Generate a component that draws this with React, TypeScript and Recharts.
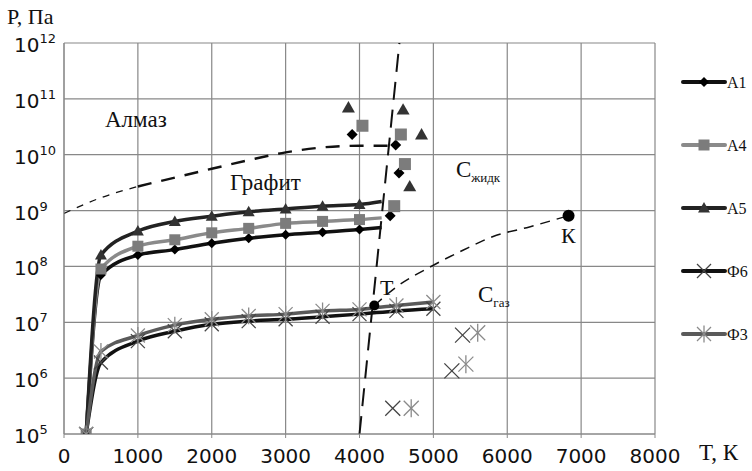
import React from "react";
import {
  ComposedChart,
  Line,
  Scatter,
  XAxis,
  YAxis,
  CartesianGrid,
  ReferenceDot,
} from "recharts";

const SANS = "'DejaVu Sans', Verdana, sans-serif";
const SERIF = "'Liberation Serif', 'Times New Roman', serif";

const X_TICKS = [0, 1000, 2000, 3000, 4000, 5000, 6000, 7000, 8000];
const Y_TICKS = [1e5, 1e6, 1e7, 1e8, 1e9, 1e10, 1e11, 1e12];

// curves A (upper group)
const A_T = [300, 500, 1000, 1500, 2000, 2500, 3000, 3500, 4000, 4300];
const A1_P = [1e5, 7e7, 1.6e8, 2.0e8, 2.6e8, 3.2e8, 3.7e8, 4.1e8, 4.6e8, 5.0e8];
const A4_P = [1e5, 9e7, 2.3e8, 3.0e8, 4.0e8, 4.8e8, 5.9e8, 6.4e8, 6.9e8, 7.4e8];
const A5_P = [1e5, 1.6e8, 4.3e8, 6.4e8, 7.9e8, 9.5e8, 1.07e9, 1.2e9, 1.28e9, 1.45e9];

// curves Ф (lower group)
const F_T = [300, 500, 1000, 1500, 2000, 2500, 3000, 3500, 4000, 4500, 5000];
const F6_P = [1e5, 1.9e6, 4.6e6, 6.9e6, 9.2e6, 1.05e7, 1.13e7, 1.26e7, 1.4e7, 1.6e7, 1.75e7];
const F3_P = [1e5, 3.0e6, 5.8e6, 8.9e6, 1.13e7, 1.3e7, 1.4e7, 1.6e7, 1.7e7, 2.0e7, 2.3e7];

// separate points
const A1_EXTRA_T = [3900, 4490, 4535, 4415];
const A1_EXTRA_P = [2.3e10, 1.5e10, 4.7e9, 8.1e8];
const A4_EXTRA_T = [4040, 4560, 4615, 4470];
const A4_EXTRA_P = [3.3e10, 2.3e10, 6.8e9, 1.2e9];
const A5_EXTRA_T = [3850, 4590, 4840, 4680];
const A5_EXTRA_P = [7e10, 6.4e10, 2.3e10, 2.7e9];
const F6_EXTRA_T = [4450, 5250, 5395];
const F6_EXTRA_P = [2.9e5, 1.35e6, 5.9e6];
const F3_EXTRA_T = [4700, 5440, 5600];
const F3_EXTRA_P = [2.9e5, 1.78e6, 6.5e6];

// phase boundaries
const GD_THIN_T = [0, 500, 1000];
const GD_THIN_P = [8.9e8, 1.7e9, 2.7e9];
const GD_T = [1000, 1500, 2000, 2500, 3000, 3500, 4000, 4480];
const GD_P = [2.7e9, 3.9e9, 5.6e9, 8e9, 1.1e10, 1.35e10, 1.45e10, 1.45e10];
const MELT_T = [4000, 4540];
const MELT_P = [1e5, 1e12];
const LG_T = [4200, 4500, 5000, 5400, 5800, 6300, 6830];
const LG_P = [2e7, 4.3e7, 1.05e8, 1.95e8, 3.4e8, 5.1e8, 8.1e8];

// triple point T and critical point K
const POINT_T = [4200, 6830];
const POINT_P = [2e7, 8.1e8];

// region labels
const LABEL_TEXT = ["Алмаз", "Графит", "С", "С", "Т", "К"];
const LABEL_SUB = ["", "", "жидк", "газ", "", ""];
const LABEL_T = [555, 2247, 5306, 5604, 4277, 6728];
const LABEL_P = [3.13e10, 2.33e9, 4.0e9, 2.3e7, 3.1e7, 2.6e8];
const LABEL_SIZE = [23, 23, 23, 23, 22, 22];

const zip = (t: number[], p: number[]) => t.map((v, i) => ({ t: v, p: p[i] }));

const marker = (kind: string, cx: number, cy: number, s: number, fill: string) => {
  switch (kind) {
    case "diamond":
      return (
        <polygon
          points={`${cx},${cy - s} ${cx + s},${cy} ${cx},${cy + s} ${cx - s},${cy}`}
          fill={fill}
        />
      );
    case "square":
      return <rect x={cx - s} y={cy - s} width={2 * s} height={2 * s} fill={fill} />;
    case "triangle":
      return (
        <polygon
          points={`${cx},${cy - s} ${cx + s},${cy + s * 0.75} ${cx - s},${cy + s * 0.75}`}
          fill={fill}
        />
      );
    case "cross":
      return (
        <g stroke={fill} strokeWidth={1.3}>
          <line x1={cx - s} y1={cy - s} x2={cx + s} y2={cy + s} />
          <line x1={cx - s} y1={cy + s} x2={cx + s} y2={cy - s} />
        </g>
      );
    default:
      return (
        <g stroke={fill} strokeWidth={1.3}>
          <line x1={cx - s} y1={cy - s} x2={cx + s} y2={cy + s} />
          <line x1={cx - s} y1={cy + s} x2={cx + s} y2={cy - s} />
          <line x1={cx} y1={cy - s * 1.2} x2={cx} y2={cy + s * 1.2} />
        </g>
      );
  }
};

const SERIES = [
  { name: "А1", t: A_T, p: A1_P, et: A1_EXTRA_T, ep: A1_EXTRA_P, stroke: "#111", marker: "diamond", fill: "#000", size: 5, skipLast: true },
  { name: "А4", t: A_T, p: A4_P, et: A4_EXTRA_T, ep: A4_EXTRA_P, stroke: "#8a8a8a", marker: "square", fill: "#7c7c7c", size: 5.5, skipLast: true },
  { name: "А5", t: A_T, p: A5_P, et: A5_EXTRA_T, ep: A5_EXTRA_P, stroke: "#222", marker: "triangle", fill: "#333", size: 6, skipLast: true },
  { name: "Ф6", t: F_T, p: F6_P, et: F6_EXTRA_T, ep: F6_EXTRA_P, stroke: "#111", marker: "cross", fill: "#444", size: 7, skipLast: false },
  { name: "Ф3", t: F_T, p: F3_P, et: F3_EXTRA_T, ep: F3_EXTRA_P, stroke: "#5a5a5a", marker: "star", fill: "#8a8a8a", size: 7, skipLast: false },
];

const XTick = ({ x, y, payload }: any) => (
  <text x={x} y={y + 23} textAnchor="middle" fontFamily={SANS} fontSize={20} fill="#111">
    {payload.value}
  </text>
);

const YTick = ({ y, payload }: any) => {
  const exp = Math.round(Math.log10(payload.value));
  return (
    <text x={14} y={y + 9} fontFamily={SANS} fontSize={20} fill="#111">
      10
      <tspan dy={-9} fontSize={13}>
        {exp}
      </tspan>
    </text>
  );
};

const LegendBox = () => (
  <svg width={72} height={300} style={{ position: "absolute", left: 680, top: 70 }}>
    {SERIES.map((s, i) => {
      const y = 12 + i * 63;
      return (
        <g key={s.name}>
          <line x1={3} y1={y} x2={45} y2={y} stroke={s.stroke} strokeWidth={4} strokeLinecap="round" />
          {marker(s.marker, 24, y, s.size, s.fill)}
          <text x={47} y={y + 6} fontFamily={SERIF} fontSize={16} fill="#111">
            {s.name}
          </text>
        </g>
      );
    })}
  </svg>
);

const LABELS = LABEL_TEXT.map((text, i) => ({
  t: LABEL_T[i],
  p: LABEL_P[i],
  text,
  sub: LABEL_SUB[i],
  size: LABEL_SIZE[i],
}));

const renderLabel = (props: any) => {
  const { cx, cy, payload } = props;
  return (
    <text x={cx} y={cy} fontFamily={SERIF} fontSize={payload.size} fill="#111">
      {payload.text}
      {payload.sub && (
        <tspan dy={5} fontSize={13}>
          {payload.sub}
        </tspan>
      )}
    </text>
  );
};

const App = () => (
  <div style={{ position: "absolute", left: 0, top: 0, width: 752, height: 471, background: "#fff" }}>
    <span style={{ position: "absolute", left: 7, top: 4, fontFamily: SERIF, fontSize: 22, color: "#111" }}>
      P, Па
    </span>
    <span style={{ position: "absolute", left: 699, top: 440, fontFamily: SERIF, fontSize: 23, color: "#111" }}>
      T, К
    </span>
    <LegendBox />
    <ComposedChart width={752} height={471} margin={{ top: 43, right: 97, left: 0, bottom: 7 }}>
      <CartesianGrid stroke="#888" strokeWidth={1.2} />
      <XAxis
        dataKey="t"
        type="number"
        domain={[0, 8000]}
        ticks={X_TICKS}
        interval={0}
        height={30}
        tick={<XTick />}
        tickSize={4}
        stroke="#888"
        allowDataOverflow
      />
      <YAxis
        dataKey="p"
        type="number"
        scale="log"
        domain={[1e5, 1e12]}
        ticks={Y_TICKS}
        interval={0}
        width={64}
        tick={<YTick />}
        tickSize={0}
        stroke="#888"
        allowDataOverflow
      />

      <Line data={zip(GD_THIN_T, GD_THIN_P)} dataKey="p" type="monotone" stroke="#111" strokeWidth={1.3} strokeDasharray="7 7" dot={false} isAnimationActive={false} legendType="none" />
      <Line data={zip(GD_T, GD_P)} dataKey="p" type="monotone" stroke="#111" strokeWidth={2.4} strokeDasharray="14 10" dot={false} isAnimationActive={false} legendType="none" />
      <Line data={zip(MELT_T, MELT_P)} dataKey="p" type="linear" stroke="#111" strokeWidth={2} strokeDasharray="18 10" dot={false} isAnimationActive={false} legendType="none" />
      <Line data={zip(LG_T, LG_P)} dataKey="p" type="monotone" stroke="#111" strokeWidth={1.5} strokeDasharray="10 7" dot={false} isAnimationActive={false} legendType="none" />

      {SERIES.map((s) => (
        <Line
          key={s.name}
          data={zip(s.t, s.p)}
          dataKey="p"
          name={s.name}
          type="monotone"
          stroke={s.stroke}
          strokeWidth={3.5}
          isAnimationActive={false}
          dot={(props: any) => {
            const { cx, cy, index } = props;
            if (s.skipLast && index === s.t.length - 1) return <g key={index} />;
            return <g key={index}>{marker(s.marker, cx, cy, s.size, s.fill)}</g>;
          }}
          activeDot={false}
        />
      ))}

      {SERIES.map((s) => (
        <Scatter
          key={s.name + "-extra"}
          data={zip(s.et, s.ep)}
          dataKey="p"
          isAnimationActive={false}
          legendType="none"
          shape={(props: any) => <g>{marker(s.marker, props.cx, props.cy, s.size + 0.5, s.fill)}</g>}
        />
      ))}

      {POINT_T.map((t, i) => (
        <ReferenceDot key={t} x={t} y={POINT_P[i]} r={i === 0 ? 5 : 6} fill="#000" stroke="none" />
      ))}

      <Scatter data={LABELS} dataKey="p" isAnimationActive={false} legendType="none" shape={renderLabel} />
    </ComposedChart>
  </div>
);

export default App;
